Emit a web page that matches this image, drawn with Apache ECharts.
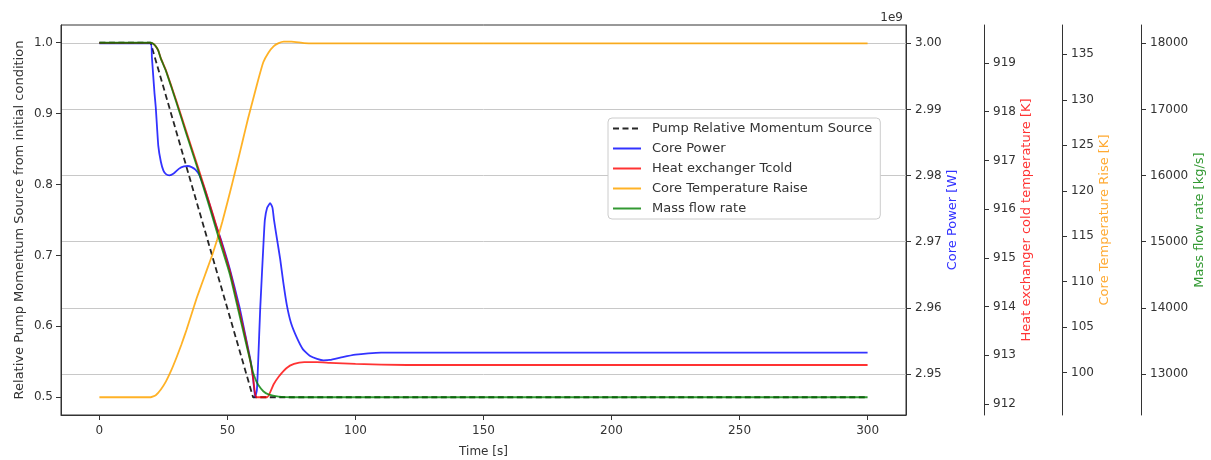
<!DOCTYPE html>
<html>
<head>
<meta charset="utf-8">
<script src="https://cdn.jsdelivr.net/npm/echarts@6/dist/echarts.min.js"></script>
<style>
html,body{margin:0;padding:0;background:#fff;overflow:hidden;}
#chart{width:1211px;height:460px;}
</style>
</head>
<body>
<div id="chart"></div>
<script>
// ---- data (time in s) ----
const xTicks = [0, 50, 100, 150, 200, 250, 300];
const leftTicks = [0.5, 0.6, 0.7, 0.8, 0.9, 1.0];
const powerTicks = [2.95e9, 2.96e9, 2.97e9, 2.98e9, 2.99e9, 3.00e9];
const tcoldTicks = [912, 913, 914, 915, 916, 917, 918, 919];
const riseTicks = [100, 105, 110, 115, 120, 125, 130, 135];
const massTicks = [13000, 14000, 15000, 16000, 17000, 18000];

const pumpT = [0, 20, 60, 300];
const pumpV = [1.0, 1.0, 0.5, 0.5];

const powerT = [0, 20, 20.5, 21, 21.5, 22, 23, 24, 25, 26, 27.3, 29, 31, 33, 34.5, 36, 37.5, 39, 41, 43, 45, 47.8, 51, 54.7, 57, 59, 60, 60.8, 61.5, 62, 62.8, 64.1, 64.6, 65.5, 66.7, 67.6, 68.2, 69.5, 70.6, 71.8, 73.2, 74.8, 77.1, 79.5, 82.3, 85, 87.5, 90, 95, 100, 105, 110, 120, 300];
const powerV = [3.0000e9, 3.0000e9, 2.99786e9, 2.99519e9, 2.99251e9, 2.99037e9, 2.98449e9, 2.98208e9, 2.98074e9, 2.98021e9, 2.98004e9, 2.98031e9, 2.98101e9, 2.98138e9, 2.98144e9, 2.98128e9, 2.98090e9, 2.98010e9, 2.97807e9, 2.97566e9, 2.97309e9, 2.96991e9, 2.96576e9, 2.96014e9, 2.95586e9, 2.95212e9, 2.94944e9, 2.94650e9, 2.94757e9, 2.95185e9, 2.95988e9, 2.96991e9, 2.97325e9, 2.97512e9, 2.97582e9, 2.97512e9, 2.97325e9, 2.97004e9, 2.96737e9, 2.96389e9, 2.96041e9, 2.95774e9, 2.95549e9, 2.95372e9, 2.95271e9, 2.95228e9, 2.95206e9, 2.95212e9, 2.95255e9, 2.95292e9, 2.95313e9, 2.95324e9, 2.95324e9, 2.95324e9];

const tcoldT = [0, 20, 21, 22, 23, 24, 26, 28, 30, 34, 38, 42, 44.5, 47, 51, 54.3, 57, 59, 60, 60.8, 61.3, 65.5, 68, 70, 73, 76, 80, 85, 90, 100, 120, 300];
const tcoldV = [919.415, 919.415, 919.393, 919.342, 919.255, 919.095, 918.847, 918.542, 918.229, 917.581, 916.941, 916.286, 915.864, 915.427, 914.721, 913.994, 913.375, 912.866, 912.538, 912.211, 912.138, 912.138, 912.400, 912.560, 912.735, 912.822, 912.858, 912.858, 912.844, 912.822, 912.800, 912.800];

const riseT = [0, 20, 22, 24, 26, 28, 30, 32, 34, 36, 38, 40, 42, 44, 46, 48, 50, 52, 54, 56, 58, 60, 62, 64, 66, 68, 70, 72, 75, 80, 90, 300];
const riseV = [97.30, 97.30, 97.53, 98.16, 99.05, 100.22, 101.59, 103.07, 104.70, 106.46, 108.21, 109.77, 111.33, 112.89, 114.64, 116.59, 118.73, 120.95, 123.22, 125.55, 127.89, 130.03, 132.18, 134.13, 135.18, 135.88, 136.23, 136.39, 136.39, 136.23, 136.19, 136.19];

const massT = [0, 20, 21, 22, 23, 24, 26, 28, 30, 34, 38, 42, 44.5, 47, 51, 54.3, 57, 59, 60, 61, 62, 64, 66, 70, 75, 300];
const massV = [18008, 18008, 17992, 17954, 17890, 17767, 17579, 17349, 17113, 16625, 16148, 15650, 15328, 15006, 14497, 13956, 13506, 13184, 13023, 12916, 12836, 12739, 12691, 12659, 12648, 12648];

const seriesNames = ['Pump Relative Momentum Source', 'Core Power', 'Heat exchanger Tcold', 'Core Temperature Raise', 'Mass flow rate'];

function pairs(t, v) { return t.map((x, i) => [x, v[i]]); }

const FONT = 'DejaVu Sans';
const TXT = '#333';

function rightAxis(offset, min, max, ticks, name, color, gap, fmt) {
  return {
    type: 'value', position: 'right', offset: offset, min: min, max: max,
    name: name, nameLocation: 'middle', nameRotate: 90, nameGap: gap, nameMoveOverlap: false,
    nameTextStyle: { color: color, fontFamily: FONT, fontSize: 13 },
    axisLine: { show: true, onZero: false, lineStyle: { color: '#333', width: 1 } },
    axisTick: { show: true, inside: false, length: 5, customValues: ticks, lineStyle: { color: '#333' } },
    axisLabel: { customValues: ticks, color: TXT, fontFamily: FONT, fontSize: 12, margin: 9,
                 formatter: fmt || (v => String(v)), showMinLabel: true, showMaxLabel: true },
    splitLine: { show: false }
  };
}

const chart = echarts.init(document.getElementById('chart'), null, { renderer: 'canvas' });

const yAxes = [
  {
    type: 'value', position: 'left', min: 0.475, max: 1.025,
    name: 'Relative Pump Momentum Source from initial condition', nameLocation: 'middle', nameRotate: 90, nameGap: 35, nameMoveOverlap: false,
    nameTextStyle: { color: TXT, fontFamily: FONT, fontSize: 13 },
    axisLine: { show: true, onZero: false, lineStyle: { color: '#333' } },
    axisTick: { show: true, length: 5, customValues: leftTicks, lineStyle: { color: '#333' } },
    axisLabel: { customValues: leftTicks, color: TXT, fontFamily: FONT, fontSize: 12, margin: 8, formatter: v => v.toFixed(1) },
    splitLine: { show: false }
  },
  (function () {
    const a = rightAxis(0, 2.9438e9, 3.00276e9, powerTicks, 'Core Power [W]', '#3333ff', 40, v => (v / 1e9).toFixed(2));
    a.splitLine = { show: true, lineStyle: { color: '#c8c8c8', width: 1 } };
    return a;
  })(),
  rightAxis(78, 911.774, 919.78, tcoldTicks, 'Heat exchanger cold temperature [K]', '#ff3333', 36),
  rightAxis(156, 95.35, 138.22, riseTicks, 'Core Temperature Rise [K]', '#ffaa33', 36),
  rightAxis(235, 12380, 18276, massTicks, 'Mass flow rate [kg/s]', '#339933', 52)
];

function lineSeries(name, data, yIdx, color, dashed) {
  return {
    name: name, type: 'line', data: data, yAxisIndex: yIdx,
    symbol: 'none', showSymbol: false, smooth: dashed ? false : 0.15,
    lineStyle: { color: color, width: 1.8, type: dashed ? [6, 3.5] : 'solid' },
    itemStyle: { color: color },
    emphasis: { disabled: true }
  };
}

const option = {
  animation: false,
  backgroundColor: '#fff',
  textStyle: { fontFamily: FONT },
  title: {
    text: '1e9', right: 303, top: 7,
    textStyle: { fontFamily: FONT, fontSize: 12, fontWeight: 'normal', color: TXT }
  },
  grid: { left: 61, right: 305, top: 25, bottom: 45, outerBoundsMode: 'none', containLabel: false,
          show: true, borderColor: '#333', borderWidth: 1, backgroundColor: 'transparent' },
  legend: {
    orient: 'vertical', left: 608, top: 118,
    data: seriesNames,
    itemWidth: 28, itemHeight: 12, itemGap: 7,
    padding: [4, 8, 4, 4],
    backgroundColor: '#fff', borderColor: '#cccccc', borderWidth: 1, borderRadius: 4,
    itemStyle: { opacity: 0 },
    textStyle: { fontFamily: FONT, fontSize: 13, color: TXT, lineHeight: 13, padding: [0, 0, 0, 6] }
  },
  xAxis: {
    type: 'value', min: -15, max: 315,
    name: 'Time [s]', nameLocation: 'middle', nameGap: 31, nameMoveOverlap: false,
    nameTextStyle: { color: TXT, fontFamily: FONT, fontSize: 12 },
    axisLine: { show: true, onZero: false, lineStyle: { color: '#333' } },
    axisTick: { show: true, length: 5, customValues: xTicks, lineStyle: { color: '#333' } },
    axisLabel: { customValues: xTicks, color: TXT, fontFamily: FONT, fontSize: 12, margin: 10 },
    splitLine: { show: false }
  },
  yAxis: yAxes,
  series: [
    lineSeries(seriesNames[0], pairs(pumpT, pumpV), 0, 'rgba(0,0,0,0.85)', true),
    lineSeries(seriesNames[1], pairs(powerT, powerV), 1, 'rgba(0,0,255,0.8)', false),
    lineSeries(seriesNames[2], pairs(tcoldT, tcoldV), 2, 'rgba(255,0,0,0.8)', false),
    lineSeries(seriesNames[3], pairs(riseT, riseV), 3, 'rgba(255,165,0,0.85)', false),
    lineSeries(seriesNames[4], pairs(massT, massV), 4, 'rgba(0,128,0,0.8)', false)
  ]
};
chart.setOption(option);
</script>
</body>
</html>
